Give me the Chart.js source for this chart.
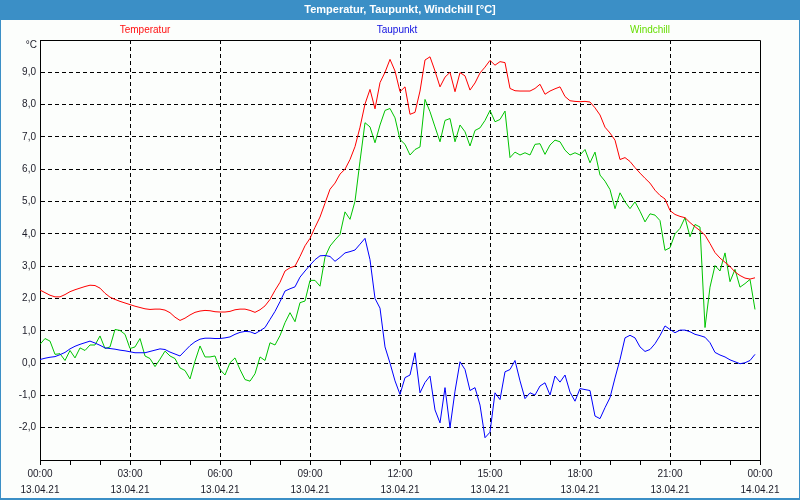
<!DOCTYPE html>
<html>
<head>
<meta charset="utf-8">
<script src="https://cdn.jsdelivr.net/npm/chart.js@4.4.1/dist/chart.umd.min.js"></script>
<style>
  html, body { margin: 0; padding: 0; background: #fcfefc; }
  #wrap { width: 800px; height: 500px; }
</style>
</head>
<body>
<div id="wrap"><canvas id="chart" width="800" height="500"></canvas></div>
<script>
// one sample every 10 minutes, 13.04.21 00:00 .. 23:50
const seriesNames = ["Temperatur", "Taupunkt", "Windchill"];

const temperatur = [
  2.26, 2.18, 2.10, 2.05, 2.05, 2.12, 2.21, 2.27, 2.32, 2.37,
  2.41, 2.40, 2.32, 2.16, 2.04, 1.97, 1.91, 1.86, 1.81, 1.76,
  1.72, 1.68, 1.66, 1.67, 1.67, 1.64, 1.56, 1.42, 1.32, 1.39,
  1.49, 1.57, 1.61, 1.63, 1.62, 1.59, 1.58, 1.58, 1.60, 1.65,
  1.67, 1.67, 1.63, 1.57, 1.65, 1.77, 1.97, 2.25, 2.50, 2.85,
  2.95, 3.00, 3.30, 3.63, 3.86, 4.20, 4.52, 4.95, 5.38, 5.57,
  5.85, 6.00, 6.30, 6.70, 7.30, 8.02, 8.47, 7.87, 8.68, 9.00,
  9.40, 9.04, 8.40, 8.55, 7.70, 7.76, 8.42, 9.38, 9.48, 9.04,
  8.55, 8.85, 9.00, 8.40, 8.99, 8.89, 8.45, 8.67, 8.98, 9.16,
  9.37, 9.22, 9.33, 9.30, 8.50, 8.43, 8.42, 8.42, 8.42, 8.50,
  8.63, 8.32, 8.42, 8.49, 8.55, 8.25, 8.12, 8.10, 8.09, 8.10,
  8.08, 7.90, 7.68, 7.30, 7.12, 6.90, 6.30, 6.36, 6.24, 6.05,
  5.88, 5.72, 5.57, 5.35, 5.19, 5.08, 4.72, 4.60, 4.54, 4.50,
  4.35, 4.22, 4.10, 3.96, 3.70, 3.42, 3.25, 3.12, 2.99, 2.82,
  2.71, 2.63, 2.60, 2.64
];

const taupunkt = [
  0.11, 0.15, 0.18, 0.20, 0.26, 0.33, 0.44, 0.52, 0.58, 0.63,
  0.68, 0.62, 0.55, 0.47, 0.45, 0.43, 0.40, 0.38, 0.35, 0.32,
  0.32, 0.32, 0.36, 0.40, 0.44, 0.42, 0.34, 0.28, 0.22, 0.38,
  0.54, 0.66, 0.74, 0.77, 0.77, 0.76, 0.76, 0.78, 0.81, 0.89,
  0.95, 0.98, 0.97, 0.91, 1.00, 1.10, 1.35, 1.60, 1.90, 2.23,
  2.30, 2.36, 2.66, 2.85, 3.03, 3.20, 3.32, 3.33, 3.30, 3.15,
  3.27, 3.41, 3.45, 3.50, 3.68, 3.86, 3.20, 2.00, 1.70, 0.50,
  0.00, -0.55, -0.97, -0.45, -0.37, 0.32, -0.92, -0.60, -0.40, -1.45,
  -1.85, -0.76, -2.00, -0.87, 0.04, -0.20, -0.85, -0.76, -1.30, -2.31,
  -2.14, -0.92, -1.13, -0.27, -0.20, 0.08, -0.55, -1.10, -0.92, -0.99,
  -0.71, -0.61, -0.99, -0.40, -0.59, -0.37, -0.90, -1.18, -0.79, -0.82,
  -0.85, -1.64, -1.72, -1.38, -1.07, -0.46, 0.11, 0.78, 0.86, 0.78,
  0.50, 0.36, 0.42, 0.60, 0.85, 1.15, 1.04, 0.94, 1.02, 1.02,
  0.97, 0.89, 0.85, 0.80, 0.63, 0.33, 0.25, 0.19, 0.10, 0.04,
  -0.02, 0.01, 0.08, 0.27
];

const windchill = [
  0.58, 0.76, 0.68, 0.27, 0.29, 0.08, 0.39, 0.16, 0.47, 0.39,
  0.56, 0.56, 0.84, 0.45, 0.50, 1.04, 1.01, 0.89, 0.45, 0.50,
  0.76, 0.22, 0.14, -0.11, 0.12, 0.37, 0.22, 0.14, -0.15, -0.23,
  -0.49, 0.06, 0.53, 0.19, 0.19, 0.22, -0.20, -0.37, 0.01, 0.16,
  -0.20, -0.51, -0.56, -0.33, 0.19, 0.08, 0.63, 0.56, 0.85, 1.25,
  1.56, 1.28, 1.87, 1.92, 2.56, 2.56, 2.38, 3.28, 3.62, 3.81,
  3.98, 4.68, 4.45, 5.01, 6.25, 7.44, 7.31, 6.82, 7.37, 7.82,
  7.88, 7.59, 6.92, 6.77, 6.44, 6.61, 6.69, 8.16, 7.78, 7.31,
  6.85, 7.51, 7.57, 6.85, 7.37, 7.16, 6.72, 7.20, 7.28, 7.51,
  7.82, 7.47, 7.54, 7.80, 6.36, 6.53, 6.44, 6.51, 6.44, 6.77,
  6.79, 6.46, 6.75, 6.90, 6.85, 6.59, 6.44, 6.51, 6.44, 6.61,
  6.20, 6.53, 5.82, 5.63, 5.37, 4.78, 5.27, 4.99, 4.78, 4.99,
  4.70, 4.37, 4.62, 4.58, 4.41, 3.49, 3.57, 4.00, 4.17, 4.50,
  3.91, 4.29, 4.21, 1.10, 2.35, 3.02, 2.85, 3.41, 2.52, 2.90,
  2.35, 2.46, 2.59, 1.66
];

const tickTimes = ["00:00", "03:00", "06:00", "09:00", "12:00", "15:00", "18:00", "21:00", "00:00"];
const tickDates = ["13.04.21", "13.04.21", "13.04.21", "13.04.21", "13.04.21", "13.04.21", "13.04.21", "13.04.21", "14.04.21"];

const lineColors = ["#ff0000", "#0000ff", "#00c400"];
const legendColors = ["#ff1010", "#1010e0", "#66dd00"];
const legendCenters = [145, 397, 650];

const FRAME_BLUE = "#3b8fc6";
const BG = "#fcfefc";
const TEXT = "#1c1c28";
const FONT = "Liberation Sans";

const minutes = temperatur.map((_, i) => i * 10);
const toPoints = (vals) => vals.map((v, i) => ({ x: minutes[i], y: v }));

const framePlugin = {
  id: "frame",
  beforeDraw(chart) {
    const { ctx, width, height } = chart;
    ctx.save();
    ctx.fillStyle = BG;
    ctx.fillRect(0, 0, width, height);
    ctx.fillStyle = FRAME_BLUE;
    ctx.fillRect(0, 0, width, 20);
    ctx.fillRect(0, 0, 1, height);
    ctx.fillRect(width - 1, 0, 1, height);
    ctx.fillRect(0, height - 2, width, 2);
    ctx.restore();
  },
  afterDraw(chart) {
    const { ctx, chartArea } = chart;
    const top = Math.round(chartArea.top) + 0.5;
    const right = Math.round(chartArea.right) + 0.5;
    ctx.save();
    ctx.strokeStyle = "#000";
    ctx.lineWidth = 1;
    ctx.beginPath();
    ctx.moveTo(Math.round(chartArea.left) + 0.5, top);
    ctx.lineTo(right, top);
    ctx.lineTo(right, Math.round(chartArea.bottom) + 0.5);
    ctx.stroke();

    ctx.font = `10px "${FONT}"`;
    ctx.textAlign = "center";
    ctx.textBaseline = "middle";
    seriesNames.forEach((name, i) => {
      ctx.fillStyle = legendColors[i];
      ctx.fillText(name, legendCenters[i], 30);
    });

    ctx.fillStyle = TEXT;
    ctx.textAlign = "right";
    ctx.fillText("°C", 37, 45);
    ctx.restore();
  },
};

new Chart(document.getElementById("chart"), {
  type: "line",
  data: {
    datasets: [
      { label: seriesNames[0], data: toPoints(temperatur), borderColor: lineColors[0] },
      { label: seriesNames[1], data: toPoints(taupunkt), borderColor: lineColors[1] },
      { label: seriesNames[2], data: toPoints(windchill), borderColor: lineColors[2] },
    ].map((d) => ({ ...d, borderWidth: 1, pointRadius: 0, tension: 0, fill: false })),
  },
  options: {
    responsive: false,
    animation: false,
    layout: { padding: 0 },
    plugins: {
      legend: { display: false },
      tooltip: { enabled: false },
      title: {
        display: true,
        text: "Temperatur, Taupunkt, Windchill [°C]",
        color: "#ffffff",
        font: { family: FONT, size: 11, weight: "bold", lineHeight: "16px" },
        padding: { top: 2, bottom: 22 },
      },
    },
    scales: {
      x: {
        type: "linear",
        min: 0,
        max: 1440,
        afterFit: (scale) => { scale.height = 40; },
        ticks: {
          stepSize: 60,
          autoSkip: false,
          maxRotation: 0,
          padding: 1,
          color: TEXT,
          font: { family: FONT, size: 10, lineHeight: "16px" },
          callback: (v) => (v % 180 === 0 ? [tickTimes[v / 180], tickDates[v / 180]] : ""),
        },
        grid: {
          color: (c) => {
            const v = c.tick ? c.tick.value : 0;
            return v % 180 === 0 && v > 0 && v < 1440 ? "#000" : "rgba(0,0,0,0)";
          },
          tickColor: "#000",
          tickLength: 5,
          lineWidth: 1,
        },
        border: { display: true, color: "#000", width: 1, dash: [4, 3] },
      },
      y: {
        min: -3,
        max: 10,
        afterFit: (scale) => { scale.width = 40; },
        ticks: {
          stepSize: 1,
          padding: 4,
          color: TEXT,
          font: { family: FONT, size: 10 },
          callback: (v) => (v <= -3 || v >= 10 ? "" : v.toFixed(1).replace(".", ",")),
        },
        grid: {
          drawTicks: false,
          color: (c) => {
            const v = c.tick ? c.tick.value : 0;
            return v > -3 && v < 10 ? "#000" : "rgba(0,0,0,0)";
          },
          lineWidth: 1,
        },
        border: { display: true, color: "#000", width: 1, dash: [4, 3] },
      },
      // empty spacer on the right so the plot ends at 00:00 of the next day
      right: {
        position: "right",
        afterFit: (scale) => { scale.width = 40; },
        ticks: { display: false },
        grid: { display: false, drawTicks: false },
        border: { display: false },
      },
    },
  },
  plugins: [framePlugin],
});
</script>
</body>
</html>
